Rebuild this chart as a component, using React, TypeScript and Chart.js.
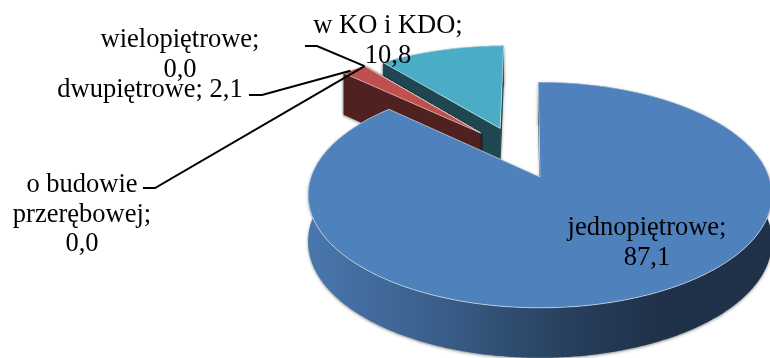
import React, { useEffect, useRef } from "react";
import { Chart, registerables } from "chart.js";

Chart.register(...registerables);

const categories = ["jednopiętrowe", "dwupiętrowe", "wielopiętrowe", "o budowie przerębowej", "w KO i KDO"];
const values = [87.1, 2.1, 0.0, 0.0, 10.8];
const colors = ["#4F81BD", "#C0504D", "#9BBB59", "#8064A2", "#4BACC6"];

// How far each slice is pulled out of the pie, and in which direction (degrees clockwise from the top).
const explodeDistance = [0, 0.51, 0.51, 0.51, 0.51];
const explodeDirection = [0, 327, 327, 327, 338.5];

// Label placement per slice: lines of wrapped category text, centre x, first baseline.
type LabelSpec = { lines: (value: string) => string[]; x: number; y: number };
const labelSpecs: LabelSpec[] = [
  { lines: (v) => ["jednopiętrowe;", v], x: 647, y: 235 },
  { lines: (v) => [`dwupiętrowe; ${v}`], x: 150, y: 97 },
  { lines: (v) => ["wielopiętrowe;", v], x: 180, y: 47 },
  { lines: (v) => ["o budowie", "przerębowej;", v], x: 82, y: 192 },
  { lines: (v) => ["w KO i KDO;", v], x: 388, y: 33 },
];

// Elbow leader lines: start, knee, then the slice point they run to (fraction along the slice's arc).
const leaders = [
  { slice: 1, from: [249, 95], knee: [262, 95], along: 0.33 },
  { slice: 2, from: [305, 46], knee: [317, 46], along: 0 },
  { slice: 3, from: [143, 188], knee: [155, 188], along: 0 },
];

const TIP_X = 540;
const TIP_Y = 177;
const PERSPECTIVE = 0.159;
const SCALE_X = 229;
const SCALE_Y = 110;
const LINE_GAP = 29.5;

type Pt = [number, number];

// Projects a point of the unit pie plane (v grows towards the viewer) onto the canvas.
const project = (u: number, v: number): Pt => {
  const w = 1 / (1 - PERSPECTIVE * v);
  return [TIP_X + SCALE_X * u * w, TIP_Y + SCALE_Y * v * w];
};
const depthAt = (v: number) => 46 + 4 * v;

const shade = (hex: string, f: number) => {
  const n = parseInt(hex.slice(1), 16);
  const c = [(n >> 16) & 255, (n >> 8) & 255, n & 255].map((x) => Math.round(x * f));
  return `rgb(${c[0]},${c[1]},${c[2]})`;
};

const pie3d = {
  id: "pie3d",
  beforeDatasetsDraw(chart: Chart) {
    const { ctx } = chart;
    const arcs = chart.getDatasetMeta(0).data as any[];

    const sliceGeometry = (i: number) => {
      const dir = (explodeDirection[i] * Math.PI) / 180;
      return {
        u0: Math.sin(dir) * explodeDistance[i],
        v0: -Math.cos(dir) * explodeDistance[i],
        start: arcs[i].startAngle as number,
        end: arcs[i].endAngle as number,
      };
    };
    const rim = (i: number, a: number) => {
      const g = sliceGeometry(i);
      return { u: g.u0 + Math.cos(a), v: g.v0 + Math.sin(a) };
    };

    const trace = (pts: Pt[]) => {
      ctx.beginPath();
      pts.forEach((p, n) => (n ? ctx.lineTo(p[0], p[1]) : ctx.moveTo(p[0], p[1])));
      ctx.closePath();
    };

    // Back slices first so nearer ones overlap them.
    for (let i = arcs.length - 1; i >= 0; i--) {
      const g = sliceGeometry(i);
      const steps = Math.max(1, Math.ceil(Math.abs(g.end - g.start) / 0.01));
      const top: { p: Pt; v: number }[] = [];
      for (let s = 0; s <= steps; s++) {
        const a = g.start + ((g.end - g.start) * s) / steps;
        const r = rim(i, a);
        top.push({ p: project(r.u, r.v), v: r.v });
      }
      const centre = project(g.u0, g.v0);
      const centreDrop = depthAt(g.v0);
      const down = (q: { p: Pt; v: number }): Pt => [q.p[0], q.p[1] + depthAt(q.v)];
      const base = colors[i];
      const wallColor = shade(base, 0.41);

      ctx.save();
      ctx.shadowColor = "rgba(0,0,0,0.45)";
      ctx.shadowBlur = 3;
      ctx.shadowOffsetX = 0;
      ctx.shadowOffsetY = 1;

      // Outer rim wall with a horizontal light falloff.
      const grad = ctx.createLinearGradient(306, 0, 770, 0);
      grad.addColorStop(0, shade(base, 0.92));
      grad.addColorStop(0.3, shade(base, 0.72));
      grad.addColorStop(0.55, shade(base, 0.5));
      grad.addColorStop(0.75, shade(base, 0.39));
      grad.addColorStop(1, shade(base, 0.38));
      trace([...top.map((q) => q.p), ...top.slice().reverse().map(down)]);
      ctx.fillStyle = grad;
      ctx.fill();

      // Radial walls: the far cut face first, the nearer one over it.
      ctx.fillStyle = wallColor;
      for (const q of [top[top.length - 1], top[0]]) {
        trace([centre, q.p, down(q), [centre[0], centre[1] + centreDrop]]);
        ctx.fill();
      }
      ctx.restore();

      // Top face with a thin light bevel.
      trace([centre, ...top.map((q) => q.p)]);
      ctx.fillStyle = base;
      ctx.fill();
      ctx.strokeStyle = values[i] === 0 ? "rgba(225,225,235,0.9)" : "rgba(255,255,255,0.55)";
      ctx.lineWidth = 1;
      ctx.stroke();
    }

    // Leader lines.
    ctx.strokeStyle = "#000";
    ctx.lineWidth = 2;
    leaders.forEach((l) => {
      const g = sliceGeometry(l.slice);
      const r = rim(l.slice, g.start + (g.end - g.start) * l.along);
      const end = project(r.u, r.v);
      ctx.beginPath();
      ctx.moveTo(l.from[0], l.from[1]);
      ctx.lineTo(l.knee[0], l.knee[1]);
      ctx.lineTo(end[0], end[1]);
      ctx.stroke();
    });

    // Category and value labels.
    ctx.fillStyle = "#000";
    ctx.font = '26.5px "Liberation Serif"';
    ctx.textAlign = "center";
    ctx.textBaseline = "alphabetic";
    labelSpecs.forEach((spec, i) => {
      const text = values[i].toFixed(1).replace(".", ",");
      spec.lines(text).forEach((line, n) => ctx.fillText(line, spec.x, spec.y + n * LINE_GAP));
    });

    return false;
  },
};

export default function App() {
  const ref = useRef<HTMLCanvasElement>(null);
  useEffect(() => {
    document.body.style.margin = "0";
    const chart = new Chart(ref.current!, {
      type: "pie",
      data: {
        labels: categories,
        datasets: [{ data: values, backgroundColor: colors }],
      },
      options: {
        responsive: false,
        animation: false,
        rotation: -0.5,
        plugins: { legend: { display: false }, tooltip: { enabled: false } },
      },
      plugins: [pie3d],
    } as any);
    return () => chart.destroy();
  }, []);
  return <canvas ref={ref} width={770} height={358} style={{ display: "block" }} />;
}
